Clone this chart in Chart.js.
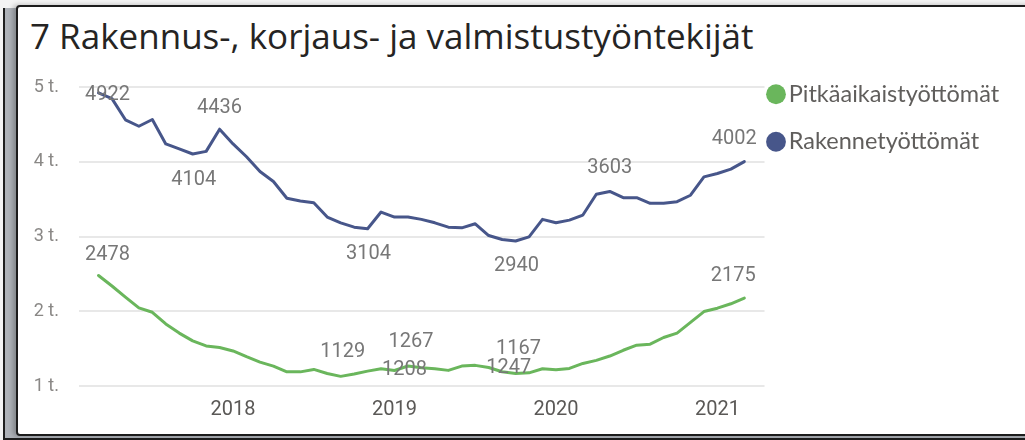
<!DOCTYPE html>
<html>
<head>
<meta charset="utf-8">
<script src="https://cdn.jsdelivr.net/npm/chart.js@4.4.1/dist/chart.umd.min.js"></script>
<style>
  html, body { margin: 0; padding: 0; }
  body { width: 1025px; height: 440px; background: #f4f4f4; position: relative; overflow: hidden; font-family: Lato, sans-serif; }
  #backpanel { position: absolute; left: 3px; top: 8px; width: 1100px; height: 432px; box-sizing: border-box;
               border-left: 2px solid #1e1e1e; border-bottom: 2px solid #1e1e1e; background: #aeb2b8; }
  #card { position: absolute; left: 16px; top: 5px; width: 1100px; height: 431px; box-sizing: border-box;
          border: 2px solid #1c1c1c; border-radius: 4px 0 0 4px; background: #fff; box-shadow: -3px 0 5px rgba(0,0,0,0.25); }
  #title { position: absolute; left: 30px; top: 18px; font-family: "Open Sans", sans-serif; font-size: 35px; line-height: 35px;
           color: #252423; white-space: nowrap; }
  #wrap { position: absolute; left: 18px; top: 72px; width: 991px; height: 362px; }
</style>
</head>
<body>
<div id="backpanel"></div>
<div id="card"></div>
<div id="title">7 Rakennus-, korjaus- ja valmistustyöntekijät</div>
<div id="wrap"><canvas id="chart"></canvas></div>
<script>
// kuukaudet 3/2017 - 3/2021
const months = [
  "2017-03", "2017-04", "2017-05", "2017-06", "2017-07", "2017-08", "2017-09", "2017-10", "2017-11", "2017-12",
  "2018-01", "2018-02", "2018-03", "2018-04", "2018-05", "2018-06", "2018-07", "2018-08", "2018-09", "2018-10", "2018-11", "2018-12",
  "2019-01", "2019-02", "2019-03", "2019-04", "2019-05", "2019-06", "2019-07", "2019-08", "2019-09", "2019-10", "2019-11", "2019-12",
  "2020-01", "2020-02", "2020-03", "2020-04", "2020-05", "2020-06", "2020-07", "2020-08", "2020-09", "2020-10", "2020-11", "2020-12",
  "2021-01", "2021-02", "2021-03"
];
const longTerm = [
  2478, 2338, 2189, 2046, 1986, 1830, 1708, 1604, 1536, 1514,
  1469, 1392, 1320, 1266, 1189, 1189, 1222, 1168, 1129, 1160, 1199, 1230,
  1208, 1267, 1243, 1230, 1209, 1266, 1276, 1247, 1190, 1167, 1176, 1230,
  1216, 1235, 1302, 1343, 1401, 1478, 1546, 1559, 1649, 1708, 1851, 1996,
  2041, 2100, 2175
];
const structural = [
  4922, 4844, 4561, 4475, 4565, 4238, 4171, 4104, 4139, 4436,
  4238, 4067, 3870, 3735, 3511, 3475, 3452, 3260, 3183, 3125, 3104, 3327,
  3260, 3260, 3229, 3183, 3125, 3116, 3170, 3013, 2960, 2940, 2995, 3229,
  3183, 3219, 3287, 3565, 3603, 3520, 3520, 3444, 3444, 3466, 3552, 3798,
  3843, 3902, 4002
];
const seriesNames = ["Pitkäaikaistyöttömät", "Rakennetyöttömät"];
const yearTicks = ["2018", "2019", "2020", "2021"];
const yTicks = [1000, 2000, 3000, 4000, 5000];

// pisteet joissa arvo näytetään
const longTermLabelIdx = [0, 18, 22, 23, 29, 31, 48];
const structuralLabelIdx = [0, 7, 9, 20, 31, 38, 48];

// tekstin siirto pisteestä [dx, dy]
const labelShift = [
  { 0: [9, -21], 18: [2, -24], 22: [10, 0], 23: [3, -24], 29: [20, 0], 31: [3, -25], 48: [-11, -22] },
  { 0: [9, 2], 7: [1, 26], 9: [0, -21], 20: [1, 25], 31: [1, 25], 38: [0, -23], 48: [-10, -23] }
];

const colors = ["#6ab65c", "#47568a"];

const valueLabels = {
  id: "valueLabels",
  afterDatasetsDraw(chart) {
    const ctx = chart.ctx;
    ctx.save();
    ctx.font = "20px Roboto";
    ctx.fillStyle = "#777777";
    ctx.textAlign = "center";
    ctx.textBaseline = "middle";
    [longTermLabelIdx, structuralLabelIdx].forEach((list, ds) => {
      const meta = chart.getDatasetMeta(ds);
      list.forEach(i => {
        const pt = meta.data[i];
        const [dx, dy] = labelShift[ds][i];
        ctx.fillText(String(chart.data.datasets[ds].data[i].y), pt.x + dx, pt.y + dy);
      });
    });
    ctx.restore();
  }
};

const toPoints = arr => arr.map((v, i) => ({ x: i, y: v }));

new Chart(document.getElementById("chart").getContext("2d"), {
  type: "line",
  data: {
    datasets: [
      { label: seriesNames[0], data: toPoints(longTerm), borderColor: colors[0], backgroundColor: colors[0] },
      { label: seriesNames[1], data: toPoints(structural), borderColor: colors[1], backgroundColor: colors[1] }
    ]
  },
  options: {
    responsive: true,
    maintainAspectRatio: false,
    animation: false,
    layout: { padding: { left: 13, right: 0, top: 0, bottom: 0 } },
    elements: {
      line: { borderWidth: 3, tension: 0, borderJoinStyle: "round", borderCapStyle: "round" },
      point: { radius: 0, hoverRadius: 0 }
    },
    scales: {
      x: {
        type: "linear",
        min: -1.45,
        max: 49.5,
        afterBuildTicks: s => { s.ticks = yearTicks.map(y => ({ value: months.indexOf(y + "-01") })); },
        ticks: {
          callback: v => months[v].slice(0, 4),
          color: "#5a5856",
          font: { family: "Roboto", size: 20 },
          padding: 12,
          maxRotation: 0,
          autoSkip: false
        },
        grid: { display: false, drawTicks: false },
        border: { display: false }
      },
      y: {
        min: 1000,
        max: 5000,
        afterBuildTicks: s => { s.ticks = yTicks.map(v => ({ value: v })); },
        afterFit: s => { s.width = 48; s.paddingTop = 15; },
        ticks: {
          callback: v => (v / 1000) + " t.",
          color: "#8a8886",
          font: { family: "Roboto", size: 18 },
          padding: 20
        },
        grid: { color: "#e8e8e8", lineWidth: 2, drawTicks: false },
        border: { display: false }
      }
    },
    plugins: {
      tooltip: { enabled: false },
      legend: {
        position: "right",
        align: "start",
        labels: {
          usePointStyle: true,
          pointStyle: "circle",
          boxWidth: 2,
          boxHeight: 14,
          padding: 10.5,
          color: "#605e5c",
          font: { family: "Lato", size: 23.5, lineHeight: "37px" },
          generateLabels(chart) {
            const items = Chart.defaults.plugins.legend.labels.generateLabels(chart);
            return items.map(it => Object.assign(it, { text: [it.text], lineWidth: 0 }));
          }
        }
      }
    }
  },
  plugins: [valueLabels]
});
</script>
</body>
</html>
